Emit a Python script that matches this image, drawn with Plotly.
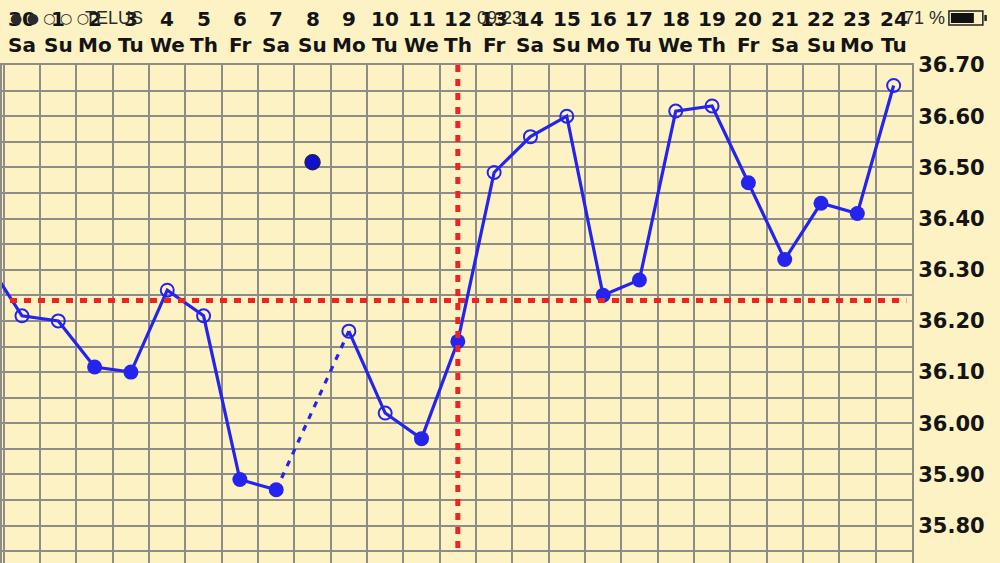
import plotly.graph_objects as go

# ---------------- data ----------------
day_index = list(range(-1, 25))          # -1 = day 29 (off the left edge)
day_nums = [29, 30] + list(range(1, 25))
weekdays = ["Fr", "Sa", "Su", "Mo", "Tu", "We", "Th",
            "Fr", "Sa", "Su", "Mo", "Tu", "We", "Th",
            "Fr", "Sa", "Su", "Mo", "Tu", "We", "Th",
            "Fr", "Sa", "Su", "Mo", "Tu"]
temps = [36.32, 36.21, 36.20, 36.11, 36.10, 36.26, 36.21, 35.89, 35.87,
         36.51, 36.18, 36.02, 35.97, 36.16, 36.49, 36.56, 36.60, 36.25,
         36.28, 36.61, 36.62, 36.47, 36.32, 36.43, 36.41, 36.66]
filled = [1, 0, 0, 1, 1, 0, 0, 1, 1, 1, 0, 0, 1, 1, 0, 0, 0, 1,
          1, 0, 0, 1, 1, 1, 1, 0]
excluded_day = 8          # day left out of the line
coverline = 36.24
ovulation_idx = 12

y_ticks = [round(35.75 + 0.05 * k, 2) for k in range(20)]
y_text = [f"{v:.2f}" if round(v * 100) % 10 == 0 else "" for v in y_ticks]

# ---------------- style ----------------
BG = "#FCF2C4"
GRID = "#8E8C86"
BLUE = "#2424EE"
RED = "#EE2424"
FONT = "DejaVu Sans"

PLOT_W, PLOT_T, PLOT_H = 912, 65, 498


def px(xp):
    return xp / PLOT_W


def py(yp):
    return 1 - (yp - PLOT_T) / PLOT_H


fig = go.Figure()

pos = {d: k for k, d in enumerate(day_index)}
ex = pos[excluded_day]

segA = [k for k in range(0, ex)]
segB = [k for k in range(ex + 1, len(day_index))]
fig.add_trace(go.Scatter(x=[day_index[k] for k in segA], y=[temps[k] for k in segA],
                         mode="lines", line=dict(color=BLUE, width=3.2), hoverinfo="skip"))
fig.add_trace(go.Scatter(x=[day_index[ex - 1], day_index[ex + 1]],
                         y=[temps[ex - 1], temps[ex + 1]],
                         mode="lines", line=dict(color=BLUE, width=3.2, dash="6px,7px"),
                         hoverinfo="skip"))
fig.add_trace(go.Scatter(x=[day_index[k] for k in segB], y=[temps[k] for k in segB],
                         mode="lines", line=dict(color=BLUE, width=3.2), hoverinfo="skip"))

# red coverline & ovulation line
fig.add_shape(type="line", x0=-0.33, x1=24.35, y0=coverline, y1=coverline,
              line=dict(color=RED, width=5, dash="7px,7px"), layer="above")
fig.add_shape(type="line", x0=ovulation_idx, x1=ovulation_idx, y0=36.70, y1=35.743,
              line=dict(color=RED, width=5, dash="7px,7px"), layer="above")

open_k = [k for k in range(len(day_index)) if not filled[k] and k != ex]
fill_k = [k for k in range(len(day_index)) if filled[k] and k != ex]
fig.add_trace(go.Scatter(x=[day_index[k] for k in open_k], y=[temps[k] for k in open_k],
                         mode="markers",
                         marker=dict(symbol="circle-open", size=13, color=BLUE,
                                     line=dict(width=2, color=BLUE)), hoverinfo="skip"))
fig.add_trace(go.Scatter(x=[day_index[k] for k in fill_k], y=[temps[k] for k in fill_k],
                         mode="markers",
                         marker=dict(symbol="circle", size=15, color=BLUE,
                                     line=dict(width=0)), hoverinfo="skip"))
fig.add_trace(go.Scatter(x=[day_index[ex]], y=[temps[ex]], mode="markers",
                         marker=dict(symbol="circle", size=15, color="#1010D0",
                                     line=dict(width=1.5, color="#202050")), hoverinfo="skip"))

# header labels (day numbers + weekday)
ann = []
HF = dict(family=FONT, size=20, color="#141414", weight="bold")
for k, d in enumerate(day_index):
    if d < 0:
        continue
    ann.append(dict(x=d, y=py(19.5), xref="x", yref="paper", text=str(day_nums[k]),
                    showarrow=False, font=HF, xanchor="center", yanchor="middle"))
    ann.append(dict(x=d, y=py(45), xref="x", yref="paper", text=weekdays[k],
                    showarrow=False, font=HF, xanchor="center", yanchor="middle"))

# status-bar overlay (phone screenshot)
SB = dict(family="Liberation Sans", size=18, color="#2a2a2a")
ann.append(dict(x=px(6), y=py(18), xref="paper", yref="paper", text="● ● ○ ○ ○",
                showarrow=False, font=dict(family="DejaVu Sans", size=14, color="#2a2a2a"),
                xanchor="left", yanchor="middle"))
ann.append(dict(x=px(81), y=py(18), xref="paper", yref="paper", text="TELUS",
                showarrow=False, font=SB, xanchor="left", yanchor="middle"))
ann.append(dict(x=px(499), y=py(18), xref="paper", yref="paper", text="09:23",
                showarrow=False, font=SB, xanchor="center", yanchor="middle"))
ann.append(dict(x=px(902), y=py(18), xref="paper", yref="paper", text="71 %",
                showarrow=False, font=SB, xanchor="left", yanchor="middle"))
fig.add_shape(type="rect", xref="paper", yref="paper", x0=px(949), x1=px(983),
              y0=py(25), y1=py(11), line=dict(color="#222", width=1.5), fillcolor="rgba(0,0,0,0)")
fig.add_shape(type="rect", xref="paper", yref="paper", x0=px(951), x1=px(974),
              y0=py(23), y1=py(13), line=dict(width=0), fillcolor="#111")
fig.add_shape(type="rect", xref="paper", yref="paper", x0=px(984.5), x1=px(987),
              y0=py(21), y1=py(15), line=dict(width=0), fillcolor="#222")

fig.update_layout(
    width=1000, height=563,
    margin=dict(l=0, r=88, t=PLOT_T, b=0),
    paper_bgcolor=BG, plot_bgcolor=BG,
    showlegend=False,
    annotations=ann,
    xaxis=dict(range=[-0.55, 24.505], tickvals=[k + 0.5 for k in range(-1, 25)],
               showticklabels=False, ticks="", showgrid=True, gridcolor=GRID, gridwidth=2,
               zeroline=False, showline=True, linecolor=GRID, linewidth=2, mirror=True,
               fixedrange=True),
    yaxis=dict(range=[35.727, 36.70], side="right", tickvals=y_ticks, ticktext=y_text,
               showgrid=True, gridcolor=GRID, gridwidth=2, zeroline=False,
               showline=True, linecolor=GRID, linewidth=2, mirror=True, ticks="",
               ticklabelstandoff=0,
               tickfont=dict(family=FONT, size=21, color="#141414", weight="bold"),
               fixedrange=True),
)

fig.write_html("out.html", config=dict(displayModeBar=False),
               post_script="document.body.style.margin='0';"
                           "document.body.style.overflow='hidden';"
                           "document.body.style.background='" + BG + "';")
